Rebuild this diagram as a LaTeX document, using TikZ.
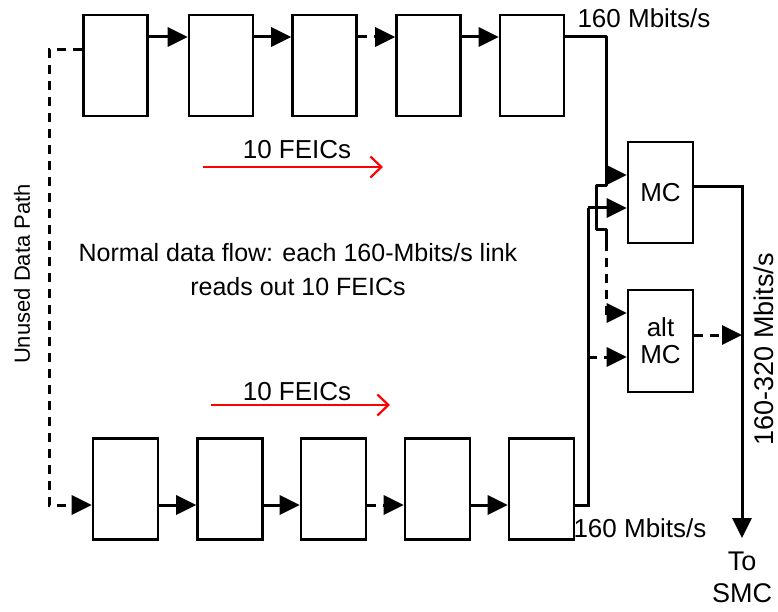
\documentclass[tikz,border=0pt]{standalone}
\usepackage{fontspec}
\setmainfont{Liberation Sans}
\usetikzlibrary{arrows.meta,calc}
\begin{document}
\begin{tikzpicture}[x=1pt,y=-1pt,
  fe/.style={draw,line width=2.6pt,minimum width=64pt,minimum height=101pt,inner sep=0pt},
  mcbox/.style={draw,line width=2.6pt,minimum width=65pt,minimum height=101pt,inner sep=0pt,align=center,font=\fontsize{26}{29}\selectfont},
  wire/.style={line width=3pt},
  arr/.style={wire,-{Triangle[length=20pt,width=19pt]}},
  dsh/.style={dash pattern=on 9pt off 7pt},
  redarr/.style={red,line width=2.2pt,-{Straight Barb[length=11pt,width=21pt,line width=2.2pt]}},
  lbl/.style={inner sep=0pt,font=\fontsize{26}{30}\selectfont},
]
\useasboundingbox (0,0) rectangle (778,612);
% top row
\node[fe] (t1) at (115.5,65.5) {};
\node[fe] (t2) at (221,65.5) {};
\node[fe] (t3) at (324.5,65.5) {};
\node[fe] (t4) at (428.5,65.5) {};
\node[fe] (t5) at (532,65.5) {};
% bottom row
\node[fe,minimum width=65pt] (b1) at (125.5,489) {};
\node[fe,minimum width=65pt] (b2) at (230,489) {};
\node[fe,minimum width=65pt] (b3) at (333.5,489) {};
\node[fe,minimum width=65pt] (b4) at (437.5,489) {};
\node[fe,minimum width=65pt] (b5) at (541.5,489) {};
% MC boxes
\node[mcbox] (mc) at (660.5,192.5) {MC};
\node[mcbox,minimum height=102pt] (alt) at (660.5,341) {alt\\[-2pt]MC};
% reference coordinates
\coordinate (ty) at (0,37);
\coordinate (by) at (0,505);
\coordinate (uy) at (0,50);
\coordinate (tx) at (606,0);
\coordinate (bx) at (588,0);
\coordinate (ox) at (742,0);
\coordinate (ul) at (49,0);
% top chain
\draw[arr] (t1.east |- ty) -- (t2.west |- ty);
\draw[arr] (t2.east |- ty) -- (t3.west |- ty);
\draw[arr,dsh] (t3.east |- ty) -- (t4.west |- ty);
\draw[arr] (t4.east |- ty) -- (t5.west |- ty);
% bottom chain
\draw[arr] (b1.east |- by) -- (b2.west |- by);
\draw[arr] (b2.east |- by) -- (b3.west |- by);
\draw[arr,dsh] (b3.east |- by) -- (b4.west |- by);
\draw[arr] (b4.east |- by) -- (b5.west |- by);
% unused data path
\draw[arr,dsh] (t1.west |- uy) -- (ul |- uy) -- (ul |- by) -- (b1.west |- by);
% top link to MC with hop
\coordinate (h1) at (606,186);
\coordinate (h4) at (606,242);
\draw[wire,line join=round] (t5.east |- ty) -- (tx |- ty) -- (h1) -- (596,186) -- (596,230) -- (606,230) -- (h4);
\draw[arr] (606,175) -- (mc.west |- 0,175);
\draw[arr,dsh] (h4) -- (606,313) -- (alt.west |- 0,313);
% bottom link to MC
\draw[wire] (b5.east |- by) -- (bx |- by) -- (bx |- 0,208);
\draw[arr] (bx |- 0,208) -- (mc.west |- 0,208);
\draw[arr,dsh] (bx |- 0,357) -- (alt.west |- 0,357);
% outputs
\coordinate (smc) at (742,538);
\draw[arr] (mc.east |- 0,187) -- (ox |- 0,187) -- (smc);
\draw[arr,dsh] (alt.east |- 0,335) -- (ox |- 0,335);
% labels
\node[lbl] (l1) at (644,18) {160 Mbits/s};
\node[lbl] (l2) at (640,528) {160 Mbits/s};
\node[lbl,align=center,font=\fontsize{27}{32}\selectfont,anchor=north] (l3) at (742,552) {To\\SMC};
\node[lbl,rotate=90,font=\fontsize{27}{30}\selectfont] (l4) at (764,349) {160-320 Mbits/s};
\node[lbl,rotate=90,font=\fontsize{22}{26}\selectfont] (l5) at (22,274) {Unused Data Path};
\node[lbl] (f1) at (297,150) {10 FEICs};
\node[lbl] (f2) at (297,392) {10 FEICs};
\coordinate (r1a) at (203,167);
\coordinate (r1b) at (383,167);
\coordinate (r2a) at (211,405);
\coordinate (r2b) at (390,405);
\draw[redarr] (r1a) -- (r1b);
\draw[redarr] (r2a) -- (r2b);
\node[lbl,align=center,font=\fontsize{25}{34}\selectfont] (nt) at (298,270) {Normal data flow: each 160-Mbits/s link\\reads out 10 FEICs};
\end{tikzpicture}
\end{document}
